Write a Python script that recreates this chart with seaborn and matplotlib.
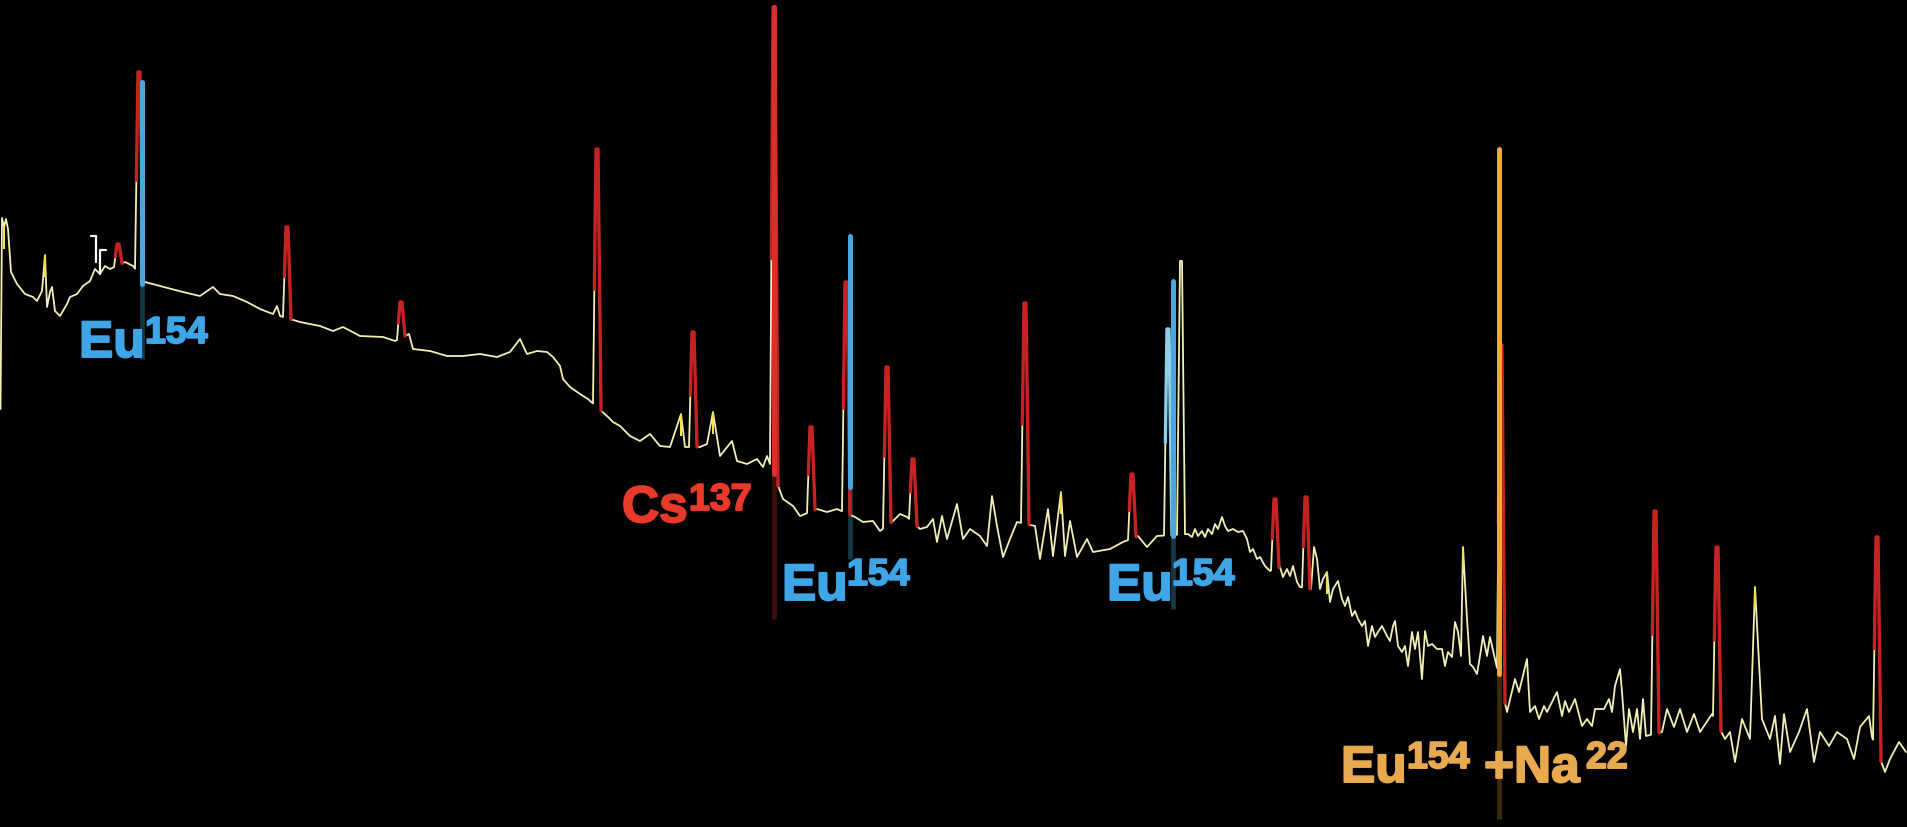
import numpy as np
import pandas as pd
import matplotlib
matplotlib.use("Agg")
import matplotlib.pyplot as plt
import matplotlib.patheffects as pe
import seaborn as sns

# ---- gamma spectrum: continuum (channel, counts) ----
cont_channel = [0.5, 2, 4, 6, 8, 11, 17, 25, 33, 37, 42, 45, 47, 50, 52, 55, 60, 67, 70, 77,
                83, 90, 95, 100, 105, 110, 125, 133, 145, 160, 183, 200, 213, 220, 233, 247,
                260, 273, 277, 280, 300, 320, 333, 343, 360, 383, 395, 405, 409, 413, 430,
                447, 463, 480, 497, 510, 520, 527, 537, 547, 553, 560, 563, 570, 580, 588,
                607, 613, 620, 630, 640, 650, 660, 670, 681, 685, 700, 707, 713, 720, 732,
                737, 747, 757, 763, 767, 783, 793, 800, 817, 827, 837, 855, 863, 873, 880,
                893, 900, 907, 920, 927, 933, 937, 942, 947, 957, 963, 970, 980, 987, 992,
                997, 1003, 1010, 1017, 1035, 1040, 1048, 1053, 1061, 1065, 1070, 1077, 1087,
                1093, 1110, 1123, 1138, 1147, 1157,
                1188, 1192, 1195, 1198, 1202, 1205, 1208, 1212, 1215, 1218, 1222, 1225, 1228,
                1233, 1238, 1243, 1247, 1250, 1253, 1257, 1260, 1265, 1270, 1280, 1283, 1287,
                1290, 1293, 1297, 1300, 1311, 1314, 1317, 1320, 1323, 1327, 1330, 1333, 1338,
                1342, 1345, 1348, 1352, 1355, 1358, 1362, 1365, 1368, 1372, 1375, 1378, 1382,
                1387, 1390, 1393, 1395, 1398, 1402, 1405, 1408, 1412, 1415, 1418, 1422, 1425,
                1428, 1432, 1437, 1442, 1445, 1448, 1452, 1455, 1458, 1461, 1463, 1467, 1470,
                1473, 1477, 1480, 1483, 1487, 1490,
                1507, 1515, 1519, 1527, 1530, 1535, 1539, 1544, 1547, 1557, 1562, 1565, 1569,
                1575, 1582, 1587, 1592, 1595, 1604, 1609, 1612, 1615, 1620, 1622, 1626, 1629,
                1633, 1637, 1640, 1643, 1646,
                1662, 1667, 1674, 1680, 1687, 1694, 1700, 1712, 1725, 1730, 1735, 1742, 1750,
                1755, 1762, 1770, 1775, 1780, 1784, 1790, 1799, 1807, 1814, 1820, 1829, 1837,
                1847, 1854, 1860, 1869, 1872, 1885, 1890, 1899, 1906]
cont_counts = [418, 609, 600, 608, 598, 555, 543, 533, 530, 526, 536, 572, 520, 535, 540, 516,
               511, 523, 530, 533, 541, 546, 558, 553, 561, 558, 565, 561, 545, 541, 535, 531,
               540, 533, 531, 525, 518, 513, 521, 511, 505, 501, 496, 500, 491, 490, 486, 480,
               493, 478, 476, 471, 471, 473, 470, 475, 488, 473, 476, 475, 470, 461, 448, 440,
               433, 428, 411, 405, 401, 391, 386, 393, 381, 380, 413, 380, 380, 383, 415, 371,
               386, 366, 363, 368, 360, 371, 328, 321, 311, 318, 315, 318, 310, 305, 306, 296,
               306, 313, 310, 298, 300, 308, 285, 311, 288, 323, 288, 298, 291, 281, 331, 301,
               270, 288, 305, 301, 268, 318, 271, 335, 271, 306, 270, 288, 275, 278, 285, 291,
               280, 291,
               293, 290, 298, 291, 296, 290, 298, 293, 303, 298, 310, 301, 296,
               298, 295, 296, 288, 275, 278, 268, 270, 261, 256, 260, 250, 258,
               251, 261, 245, 240, 238, 280, 268, 238, 248, 255, 225, 238, 246,
               228, 221, 230, 211, 216, 208, 201, 206, 181, 201, 190, 195, 201,
               191, 186, 201, 206, 181, 175, 181, 161, 195, 178, 195, 148, 196,
               181, 183, 178, 178, 161, 175, 170, 205, 195, 171, 280, 208, 163,
               160, 153, 171, 191, 171, 190,
               115, 148, 135, 168, 115, 121, 108, 121, 115, 135, 111, 126, 115,
               128, 101, 108, 101, 118, 118, 128, 115, 141, 158, 135, 81, 118,
               95, 118, 88, 128, 91,
               95, 118, 100, 118, 95, 113, 95, 113, 88, 95, 65, 108, 88,
               240, 108, 88, 111, 63, 113, 75, 95, 118, 65, 95, 81, 95,
               88, 68, 100, 111, 90, 55, 68, 85, 75]

# ---- photopeaks ----
peak_channel = [118, 139, 287, 401, 597, 693, 774, 811, 846, 887, 913, 1025, 1132,
                1168, 1181, 1275, 1306, 1501, 1655, 1717, 1877]
peak_counts = [583, 755, 600, 525, 678, 495, 820, 400, 545, 460, 368, 524, 353,
               498, 566, 328, 330, 482, 316, 280, 290]
peak_tint = ["red", "red", "red", "red", "red", "red", "red", "red", "red", "red", "red",
             "red", "red", "lightblue", "plain", "red", "red", "red", "red", "red", "red"]

# small spikes whose tips are shown in bright yellow
hilite_channel = [4, 45, 681, 713, 1061, 1327, 1463, 1755]

# ---- nuclide identification markers ----
marker_channel = [142, 774, 850, 1173, 1499]
marker_top = [745, 820, 591, 546, 678]
marker_base = [543, 353, 340, 291, 153]
marker_floor = [468, 208, 268, 218, 8]
marker_color = ["#4aa6de", "#d8302a", "#4aa6de", "#4aa6de", "#f2a838"]
marker_shadow = ["#163844", "#3c0e0c", "#163844", "#163844", "#3e2a0c"]

# ---- region-of-interest brackets ----
bracket_left = [91, 100]
bracket_right = [96, 106]
bracket_top = [591, 577]
bracket_bottom = [565, 553]
bracket_stem = ["right", "left"]

# ---- nuclide labels ----
label_text = ["Eu", "Cs", "Eu", "Eu", "Eu", "+Na"]
label_sup = ["154", "137", "154", "154", "154", "22"]
label_x = [79, 622, 782, 1107, 1341, 1484]
label_y = [470, 305, 227, 227, 45, 45]
sup_x = [145, 689, 847, 1172, 1407, 1586]
sup_y = [484, 317, 242, 242, 59, 59]
label_color = ["#3ea5e6", "#e8392b", "#3ea5e6", "#3ea5e6", "#e8aa4e", "#e8aa4e"]

LINE = "#f1efb6"
RED = "#c42322"
TINTS = {"red": RED, "lightblue": "#8ccfe6"}
HALF_WIDTH = 4.0

sns.set_theme(style="dark", rc={"axes.facecolor": "black", "figure.facecolor": "black"})
plt.rcParams["font.family"] = ["Liberation Sans", "DejaVu Sans"]

# continuum with the peak regions cut out, then the peak profiles inserted
cx = np.asarray(cont_channel, float)
cy = np.asarray(cont_counts, float)
px = np.asarray(peak_channel, float)
py = np.asarray(peak_counts, float)
keep = np.all(np.abs(cx[:, None] - px[None, :]) > HALF_WIDTH + 0.5, axis=1)
cx, cy = cx[keep], cy[keep]

spec_x = list(cx)
spec_y = list(cy)
overlay_rows = []
for i, (x0, top, tint) in enumerate(zip(px, py, peak_tint)):
    left_b = np.interp(x0 - HALF_WIDTH, cx, cy)
    right_b = np.interp(x0 + HALF_WIDTH, cx, cy)
    spec_x += [x0 - HALF_WIDTH, x0 - 1, x0 + 1, x0 + HALF_WIDTH]
    spec_y += [left_b, top, top, right_b]
    if tint != "plain":
        f = 0.45
        sx = (x0 - HALF_WIDTH) + f * (HALF_WIDTH - 1)
        sy = left_b + f * (top - left_b)
        for xx, yy in [(sx, sy), (x0 - 1, top), (x0 + 1, top), (x0 + HALF_WIDTH, right_b)]:
            overlay_rows.append({"channel": xx, "counts": yy, "peak": i, "tint": tint})

spectrum = pd.DataFrame({"channel": spec_x, "counts": spec_y}).sort_values("channel")
overlay = pd.DataFrame(overlay_rows)

fig = plt.figure(figsize=(19.07, 8.28), dpi=100)
ax = fig.add_axes([0, 0, 1, 1])
ax.set_facecolor("black")

# dim marker stems below the identified lines
ax.vlines(marker_channel, marker_floor, marker_base, colors=marker_shadow, lw=3.4, zorder=1)

sns.lineplot(data=spectrum, x="channel", y="counts", sort=False, estimator=None,
             color=LINE, lw=1.3, ax=ax, zorder=2)

# bright tips on a few small spikes
hx = np.asarray(hilite_channel, float)
hy = np.interp(hx, cx, cy)
ax.vlines(hx, hy - 22, hy, colors="#f3e24a", lw=1.5, zorder=2.5)

for tint, grp in overlay.groupby("tint"):
    sns.lineplot(data=grp, x="channel", y="counts", units="peak", estimator=None,
                 sort=False, color=TINTS[tint], lw=2.4, ax=ax, zorder=3)

ax.vlines(marker_channel, marker_base, marker_top, colors=marker_color, lw=3.6,
          zorder=4, capstyle="round")

for l, r, t, b, stem in zip(bracket_left, bracket_right, bracket_top, bracket_bottom, bracket_stem):
    xs = [l, r, r] if stem == "right" else [r, l, l]
    ax.plot(xs, [t, t, b], color="white", lw=1.6, zorder=4)

for txt, sup, x0, y0, xs, ys, c in zip(label_text, label_sup, label_x, label_y,
                                          sup_x, sup_y, label_color):
    thick = [pe.withStroke(linewidth=1.4, foreground=c)]
    ax.text(x0, y0, txt, color=c, fontsize=37, fontweight="bold", ha="left",
            va="baseline", zorder=5, path_effects=thick)
    ax.text(xs, ys, sup, color=c, fontsize=27, fontweight="bold", ha="left",
            va="baseline", zorder=5, path_effects=thick)

ax.set_xlim(0, 1907)
ax.set_ylim(0, 828)
ax.set_axis_off()
fig.savefig("out.png", dpi=100, facecolor="black")
